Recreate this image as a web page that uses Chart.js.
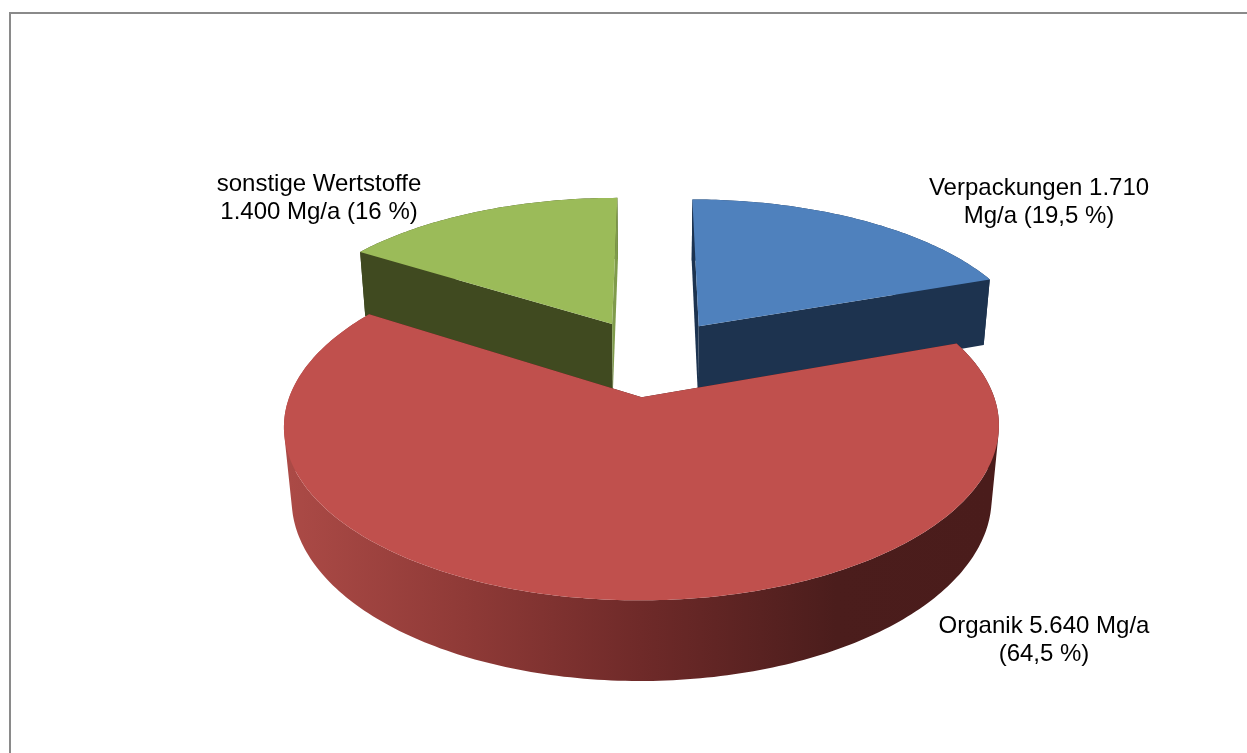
<!DOCTYPE html>
<html>
<head>
<meta charset="utf-8">
<title>Abfallmengen</title>
<script src="https://cdn.jsdelivr.net/npm/chart.js@4"></script>
<style>
  html, body { margin: 0; padding: 0; background: #fff; overflow: hidden; }
  #wrap { position: relative; width: 1247px; height: 753px; }
  #frame { position: absolute; left: 9px; top: 12px; width: 1238px; height: 741px;
           border-left: 2px solid #8a8a8a; border-top: 2px solid #8a8a8a; box-sizing: border-box; }
  canvas { position: absolute; left: 0; top: 0; }
</style>
</head>
<body>
<div id="wrap">
  <div id="frame"></div>
  <canvas id="pieChart" width="1247" height="753"></canvas>
</div>
<script>
// Data
const categories = ["Verpackungen", "Organik", "sonstige Wertstoffe"];
const values = [1710, 5640, 1400];
const labelLines = [
  ["Verpackungen 1.710", "Mg/a (19,5 %)"],
  ["Organik 5.640 Mg/a", "(64,5 %)"],
  ["sonstige Wertstoffe", "1.400 Mg/a (16 %)"]
];
const topColors = ["#4f81bd", "#c0504d", "#9bbb59"];
const startFaceColors = ["#1c3350", "#4a1c1b", "#404a20"];
const endFaceColors = ["#1d334f", "#4a1c1b", "#7f9b4b"];

// Where the labels sit (centre x, first baseline)
const labelPos = [[1039, 195], [1044, 633], [319, 191]];

// Projection of the pie plane onto the screen
const view = { cx: 651.5, cy: 357, a: 338.5, b: 156, k: 0.16, m: 0.02, h: 71 };

function project(u, v, d) {
  const w = 1 + view.k * v + view.m * d;
  return [view.cx + view.a * u / w, view.cy + (-view.b * v + view.h * d) / w];
}

function polygon(ctx, pts, fill) {
  ctx.beginPath();
  pts.forEach((p, i) => (i ? ctx.lineTo(p[0], p[1]) : ctx.moveTo(p[0], p[1])));
  ctx.closePath();
  ctx.fillStyle = fill;
  ctx.fill();
}

function signedArea(pts) {
  let sum = 0;
  pts.forEach((p, i) => {
    const q = pts[(i + 1) % pts.length];
    sum += p[0] * q[1] - q[0] * p[1];
  });
  return sum;
}

function drawSlice(ctx, arc, i) {
  const { startAngle, endAngle, outerRadius } = arc.getProps(["startAngle", "endAngle", "outerRadius"]);
  const mid = (startAngle + endAngle) / 2;
  // arcs are shifted by a quarter of the offset option when exploded
  const e = (arc.options.offset / 4) / outerRadius;
  const point = (angle, r, d) => project(
    e * Math.cos(mid) + r * Math.cos(angle),
    -(e * Math.sin(mid) + r * Math.sin(angle)),
    d
  );

  const steps = Math.ceil((endAngle - startAngle) * 60);
  const topEdge = [];
  const bottomEdge = [];
  for (let s = 0; s <= steps; s++) {
    const angle = startAngle + (endAngle - startAngle) * s / steps;
    topEdge.push(point(angle, 1, 0));
    bottomEdge.push(point(angle, 1, 1));
  }

  // outer wall, the shading runs left to right
  const wall = ctx.createLinearGradient(290, 0, 990, 0);
  if (i === 1) {
    wall.addColorStop(0, "#ab4a46");
    wall.addColorStop(0.25, "#8f3a37");
    wall.addColorStop(0.5, "#6f2a29");
    wall.addColorStop(0.78, "#4b1d1c");
    wall.addColorStop(1, "#4a1c1b");
  } else {
    wall.addColorStop(0, startFaceColors[i]);
    wall.addColorStop(1, startFaceColors[i]);
  }
  // all quads in one path with the same winding, so the wall has no seams
  // and does not cancel itself where it folds back
  ctx.beginPath();
  for (let s = 0; s < steps; s++) {
    let quad = [topEdge[s], topEdge[s + 1], bottomEdge[s + 1], bottomEdge[s]];
    if (signedArea(quad) < 0) quad = quad.reverse();
    quad.forEach((p, n) => (n ? ctx.lineTo(p[0], p[1]) : ctx.moveTo(p[0], p[1])));
    ctx.closePath();
  }
  ctx.fillStyle = wall;
  ctx.fill();

  // the two cut faces
  polygon(ctx, [point(startAngle, 0, 0), point(startAngle, 1, 0), point(startAngle, 1, 1), point(startAngle, 0, 1)], startFaceColors[i]);
  polygon(ctx, [point(endAngle, 0, 0), point(endAngle, 1, 0), point(endAngle, 1, 1), point(endAngle, 0, 1)], endFaceColors[i]);

  // top face
  polygon(ctx, [point(mid, 0, 0)].concat(topEdge), topColors[i]);
}

const pie3d = {
  id: "pie3d",
  beforeDatasetsDraw(chart) {
    const ctx = chart.ctx;
    const arcs = chart.getDatasetMeta(0).data;
    // back slices first
    const order = arcs.map((a, i) => i).sort((p, q) => {
      const midOf = (a) => (a.startAngle + a.endAngle) / 2;
      return Math.sin(midOf(arcs[p])) - Math.sin(midOf(arcs[q]));
    });
    ctx.save();
    order.forEach((i) => drawSlice(ctx, arcs[i], i));

    ctx.fillStyle = "#000";
    ctx.font = '24px "Liberation Sans", Arial, sans-serif';
    ctx.textAlign = "center";
    labelLines.forEach((lines, i) => {
      lines.forEach((line, n) => ctx.fillText(line, labelPos[i][0], labelPos[i][1] + n * 28));
    });
    ctx.restore();
    return false; // the projected slices replace the flat ones
  }
};

new Chart(document.getElementById("pieChart"), {
  type: "pie",
  data: {
    labels: categories,
    datasets: [{
      data: values,
      backgroundColor: topColors,
      borderWidth: 0,
      offset: 251
    }]
  },
  options: {
    responsive: false,
    animation: false,
    plugins: { legend: { display: false }, tooltip: { enabled: false } }
  },
  plugins: [pie3d]
});
</script>
</body>
</html>
